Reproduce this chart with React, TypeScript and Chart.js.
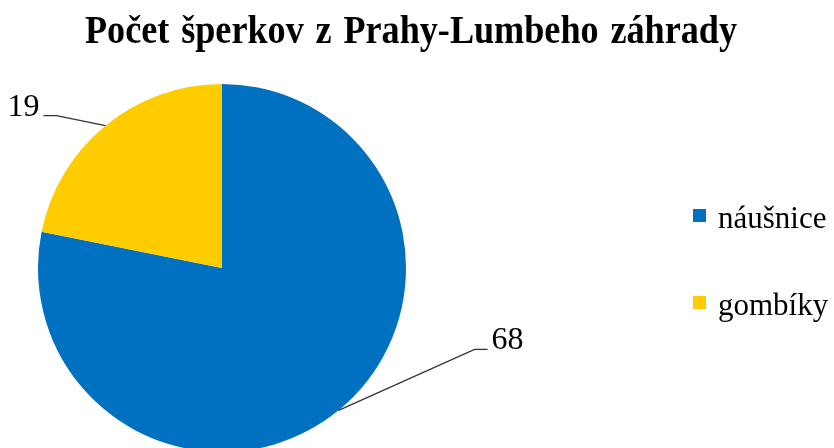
import React, { useEffect, useRef } from "react";
import { Chart, registerables } from "chart.js";

Chart.register(...registerables);

const titleText = "Počet šperkov z Prahy-Lumbeho záhrady";
const categories = ["náušnice", "gombíky"];
const values = [68, 19];
const colors = ["#0070C0", "#FFCC00"];

const SERIF = "'Liberation Serif', 'Times New Roman', serif";

const overlayPlugin = {
  id: "overlay",
  afterDraw(chart: any) {
    const ctx = chart.ctx;
    ctx.save();
    // Title (slightly condensed)
    ctx.fillStyle = "#000";
    ctx.font = `bold 39px ${SERIF}`;
    try { (ctx as any).wordSpacing = "3px"; } catch (e) {}
    ctx.textAlign = "left";
    ctx.textBaseline = "alphabetic";
    const w = ctx.measureText(titleText).width;
    const targetW = 652;
    const sx = targetW / w;
    ctx.save();
    ctx.translate(85, 43);
    ctx.scale(sx, 1);
    ctx.fillText(titleText, 0, 0);
    ctx.restore();
    try { (ctx as any).wordSpacing = "0px"; } catch (e) {}

    // Value labels with leader lines
    const cfg = chart.options.plugins.overlay;
    const meta = chart.getDatasetMeta(0);
    meta.data.forEach((arc: any, i: number) => {
      const p = arc.getProps(["x", "y", "startAngle", "endAngle", "outerRadius"], true);
      const mid = (p.startAngle + p.endAngle) / 2;
      const ex = p.x + Math.cos(mid) * p.outerRadius;
      const ey = p.y + Math.sin(mid) * p.outerRadius;
      const off = cfg.offsets[i];
      const bx = ex + off[0];
      const by = ey + off[1];
      const dir = off[0] >= 0 ? 1 : -1;
      const hx = bx + dir * 13;
      ctx.strokeStyle = "#333333";
      ctx.lineWidth = 1.3;
      ctx.beginPath();
      ctx.moveTo(ex, ey);
      ctx.lineTo(bx, by);
      ctx.lineTo(hx, by);
      ctx.stroke();
      ctx.fillStyle = "#000";
      ctx.font = `32px ${SERIF}`;
      ctx.textAlign = dir > 0 ? "left" : "right";
      ctx.textBaseline = "alphabetic";
      ctx.fillText(String(chart.data.datasets[0].data[i]), hx + dir * 4, by);
    });

    // Legend
    const labels = chart.data.labels;
    const bg = chart.data.datasets[0].backgroundColor;
    labels.forEach((lab: string, i: number) => {
      const cy = 216 + i * 87;
      ctx.fillStyle = bg[i];
      ctx.fillRect(693, cy - 7, 13, 13);
      ctx.fillStyle = "#000";
      ctx.font = `31px ${SERIF}`;
      ctx.textAlign = "left";
      ctx.textBaseline = "alphabetic";
      ctx.fillText(lab, 718, cy + 12);
    });
    ctx.restore();
  },
};

export default function App() {
  const ref = useRef<HTMLCanvasElement>(null);
  useEffect(() => {
    document.body.style.margin = "0";
    document.body.style.overflow = "hidden";
    document.documentElement.style.overflow = "hidden";
    const chart = new Chart(ref.current as HTMLCanvasElement, {
      type: "pie",
      data: {
        labels: categories,
        datasets: [
          {
            data: values,
            backgroundColor: colors,
            borderWidth: 0,
            hoverOffset: 0,
            offset: 0,
          },
        ],
      },
      options: {
        responsive: false,
        animation: false,
        layout: { padding: { left: 38, right: 428, top: 84, bottom: 18 } },
        plugins: {
          legend: { display: false },
          title: { display: false },
          tooltip: { enabled: false },
          overlay: { offsets: [[136, -61], [-49, -10]] },
        } as any,
      },
      plugins: [overlayPlugin],
    });
    return () => chart.destroy();
  }, []);
  return (
    <div style={{ width: 834, height: 448, overflow: "hidden", background: "#fff" }}>
      <canvas ref={ref} width={834} height={470} style={{ display: "block" }} />
    </div>
  );
}
